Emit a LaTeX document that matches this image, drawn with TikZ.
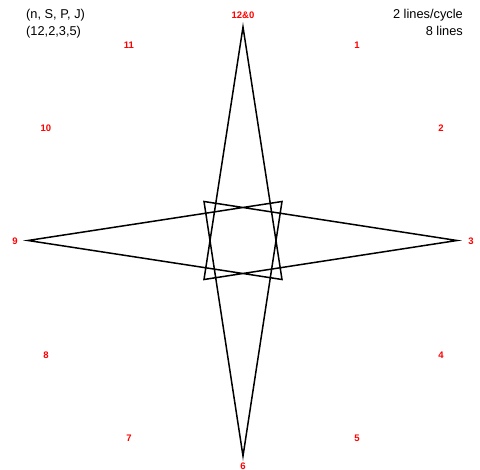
\documentclass[tikz,border=0pt]{standalone}
\usepackage{fontspec}
\setmainfont{Liberation Sans}
\begin{document}
\begin{tikzpicture}[x=1pt,y=-1pt,
  lab/.style={text=red,font=\fontsize{9.5}{10}\selectfont\bfseries,inner sep=0pt},
  info/.style={font=\fontsize{12.8}{17}\selectfont,inner sep=0pt,align=left},
  star/.style={line width=1.5pt,line join=miter}]
\useasboundingbox (0,0) rectangle (480,470);
% star vertices
\coordinate (T) at (243,27);
\coordinate (B) at (243,456);
\coordinate (L) at (28,240.5);
\coordinate (R) at (457,240.5);
\coordinate (TL) at (204,201.5);
\coordinate (TR) at (282,201.5);
\coordinate (BL) at (204,279.5);
\coordinate (BR) at (282,279.5);
\draw[star] (T) -- (BL) -- (R) -- (TL) -- (B) -- (TR) -- (L) -- (BR) -- cycle;
% clock labels
\node[lab] (n0) at (243,15) {12\&0};
\node[lab] (n1) at (357,45) {1};
\node[lab] (n2) at (441,128) {2};
\node[lab] (n3) at (471,241) {3};
\node[lab] (n4) at (441,355) {4};
\node[lab] (n5) at (357,438) {5};
\node[lab] (n6) at (243,466) {6};
\node[lab] (n7) at (129,438) {7};
\node[lab] (n8) at (46,355) {8};
\node[lab] (n9) at (15,241) {9};
\node[lab] (n10) at (46,128) {10};
\node[lab] (n11) at (129,45) {11};
% info texts
\node[info,anchor=north west] (par) at (26,9.5) {(n, S, P, J)\\(12,2,3,5)};
\node[info,anchor=north east,align=right] (cnt) at (463,9.5) {2 lines/cycle\\8 lines};
\end{tikzpicture}
\end{document}
